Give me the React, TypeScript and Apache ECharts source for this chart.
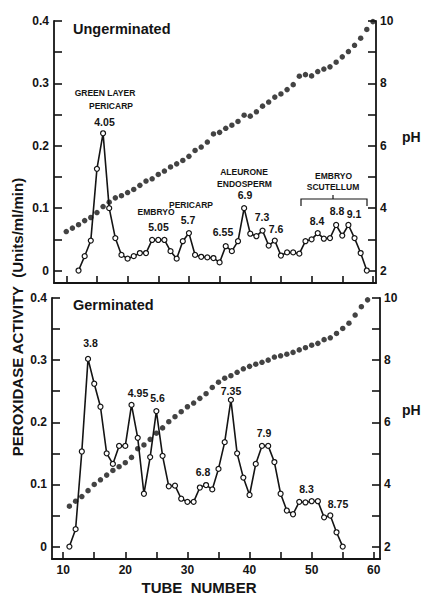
import React, { useEffect, useRef } from "react";
import * as echarts from "echarts";

// ---------- DATA ----------
// Ungerminated panel
const topActivityStartTube = 12;
const topActivity = [
  0.0, 0.023, 0.048, 0.163, 0.22, 0.1, 0.052, 0.025, 0.019, 0.023, 0.028, 0.028,
  0.049, 0.049, 0.049, 0.031, 0.019, 0.047, 0.06, 0.025, 0.022, 0.021, 0.02, 0.013,
  0.039, 0.031, 0.047, 0.1, 0.059, 0.055, 0.064, 0.04, 0.048, 0.024, 0.029, 0.029,
  0.027, 0.047, 0.05, 0.06, 0.051, 0.052, 0.073, 0.056, 0.073, 0.052, 0.028, 0.0,
];
const topPHStartTube = 10;
const topPH = [
  3.25, 3.36, 3.47, 3.6, 3.7, 3.86, 4.05, 4.19, 4.33, 4.4, 4.5, 4.6, 4.73, 4.87,
  4.94, 5.08, 5.19, 5.32, 5.42, 5.53, 5.66, 5.85, 5.96, 6.12, 6.38, 6.43, 6.56,
  6.66, 6.78, 6.98, 6.95, 7.09, 7.27, 7.4, 7.56, 7.66, 7.8, 7.96, 8.23, 8.28, 8.24,
  8.38, 8.46, 8.53, 8.68, 8.85, 9.02, 9.22, 9.45, 9.73, 9.98,
];

// Germinated panel
const botActivityStartTube = 11;
const botActivity = [
  0.0, 0.028, 0.153, 0.302, 0.262, 0.225, 0.15, 0.133, 0.162, 0.162, 0.228, 0.175,
  0.085, 0.144, 0.218, 0.146, 0.097, 0.098, 0.077, 0.072, 0.072, 0.095, 0.099,
  0.092, 0.125, 0.168, 0.236, 0.15, 0.111, 0.083, 0.133, 0.162, 0.162, 0.136,
  0.085, 0.058, 0.052, 0.072, 0.071, 0.073, 0.073, 0.047, 0.05, 0.023, 0.0,
];
const botPHStartTube = 11;
const botPH = [
  3.3, 3.46, 3.61, 3.8, 4.0, 4.15, 4.3, 4.45, 4.57, 4.7, 4.87, 5.15, 5.27, 5.45,
  5.65, 5.82, 6.02, 6.18, 6.34, 6.5, 6.62, 6.77, 6.92, 7.12, 7.29, 7.42, 7.5, 7.61,
  7.72, 7.8, 7.87, 7.93, 8.0, 8.1, 8.14, 8.19, 8.25, 8.33, 8.4, 8.48, 8.54, 8.66,
  8.72, 8.86, 9.02, 9.19, 9.45, 9.72, 9.94,
];

// Tick values / labels
const xTickValues = [10, 15, 20, 25, 30, 35, 40, 45, 50, 55, 60];
const xLabelValues = [10, 20, 30, 40, 50, 60];
const actTickValues = [0, 0.05, 0.1, 0.15, 0.2, 0.25, 0.3, 0.35, 0.4];
const actLabelValues = [0, 0.1, 0.2, 0.3, 0.4];
const phTickValues = [2, 3, 4, 5, 6, 7, 8, 9, 10];
const phLabelValues = [2, 4, 6, 8, 10];

// Annotations (text, pixel centre, font size)
const topNotes: [string, number, number, number][] = [
  ["GREEN LAYER", 105, 93, 8.5],
  ["PERICARP", 111, 106, 8.5],
  ["4.05", 104.5, 121.5, 10.5],
  ["EMBRYO", 156, 212, 8.5],
  ["5.05", 158.5, 227, 10.5],
  ["PERICARP", 191, 204.5, 8.5],
  ["5.7", 188, 220, 10.5],
  ["6.55", 223, 231.5, 10.5],
  ["ALEURONE", 244, 172, 8.5],
  ["ENDOSPERM", 244.5, 183.5, 8.5],
  ["6.9", 245, 194.5, 10.5],
  ["7.3", 262, 217, 10.5],
  ["7.6", 276, 229, 10.5],
  ["EMBRYO", 333.5, 175.5, 8.5],
  ["SCUTELLUM", 333, 187, 8.5],
  ["8.4", 317, 220.5, 10.5],
  ["8.8", 337, 211, 10.5],
  ["9.1", 354, 213.5, 10.5],
];
const botNotes: [string, number, number, number][] = [
  ["3.8", 90.5, 343, 10.5],
  ["4.95", 138, 392.5, 10.5],
  ["5.6", 157.5, 398, 10.5],
  ["7.35", 231, 391, 10.5],
  ["6.8", 203, 472, 10.5],
  ["7.9", 264, 432.5, 10.5],
  ["8.3", 306.5, 488.5, 10.5],
  ["8.75", 338, 504, 10.5],
];

const FONT = "'Liberation Sans', Arial, Helvetica, sans-serif";
const INK = "#141414";

function xAxisFor(gridIndex: number, min: number, max: number, showLabels: boolean) {
  return {
    type: "value",
    gridIndex,
    min,
    max,
    axisLine: { show: true, onZero: false, lineStyle: { color: INK, width: 1.8 } },
    axisTick: {
      show: true,
      inside: true,
      length: 7,
      customValues: xTickValues,
      lineStyle: { color: INK, width: 1.6 },
    },
    axisLabel: {
      show: showLabels,
      customValues: xLabelValues,
      color: INK,
      fontFamily: FONT,
      fontWeight: "bold",
      fontSize: 12,
      margin: 5,
    },
    splitLine: { show: false },
  };
}

function actAxisFor(gridIndex: number) {
  return {
    type: "value",
    gridIndex,
    position: "left",
    min: -0.02,
    max: 0.4,
    axisLine: { show: true, onZero: false, lineStyle: { color: INK, width: 1.8 } },
    axisTick: {
      show: true,
      inside: true,
      length: 8,
      customValues: actTickValues,
      lineStyle: { color: INK, width: 1.6 },
    },
    axisLabel: {
      customValues: actLabelValues,
      formatter: (v: number) => (v === 0 ? "0" : v.toFixed(1)),
      color: INK,
      fontFamily: FONT,
      fontWeight: "bold",
      fontSize: 12,
      margin: 5,
    },
    splitLine: { show: false },
  };
}

function phAxisFor(gridIndex: number) {
  return {
    type: "value",
    gridIndex,
    position: "right",
    min: 1.6,
    max: 10,
    axisLine: { show: true, onZero: false, lineStyle: { color: INK, width: 1.8 } },
    axisTick: {
      show: true,
      inside: true,
      length: 8,
      customValues: phTickValues,
      lineStyle: { color: INK, width: 1.6 },
    },
    axisLabel: {
      customValues: phLabelValues,
      color: INK,
      fontFamily: FONT,
      fontWeight: "bold",
      fontSize: 12,
      margin: 4,
    },
    splitLine: { show: false },
  };
}

function activitySeries(xi: number, yi: number, start: number, vals: number[]) {
  return {
    type: "line",
    xAxisIndex: xi,
    yAxisIndex: yi,
    data: vals.map((v, i) => [start + i, v]),
    symbol: "circle",
    symbolSize: 5,
    showAllSymbol: true,
    lineStyle: { color: INK, width: 1.6 },
    itemStyle: { color: "#ffffff", borderColor: INK, borderWidth: 1.2 },
    z: 3,
  };
}

function phSeries(xi: number, yi: number, start: number, vals: number[]) {
  return {
    type: "scatter",
    xAxisIndex: xi,
    yAxisIndex: yi,
    data: vals.map((v, i) => [start + i, v]),
    symbol: "circle",
    symbolSize: 5.5,
    itemStyle: { color: INK },
    z: 4,
  };
}

function noteText(t: string, x: number, y: number, size: number) {
  return {
    type: "text",
    x,
    y,
    z: 10,
    style: {
      text: t,
      fill: INK,
      font: `bold ${size}px ${FONT}`,
      textAlign: "center",
      textVerticalAlign: "middle",
    },
  };
}

export default function App() {
  const ref = useRef<HTMLDivElement>(null);
  useEffect(() => {
    if (!ref.current) return;
    const chart = echarts.init(ref.current, null, { renderer: "svg" });
    const graphics: any[] = [
      {
        type: "text",
        x: 73,
        y: 29,
        style: {
          text: "Ungerminated",
          fill: INK,
          font: `bold 14.5px ${FONT}`,
          textAlign: "left",
          textVerticalAlign: "middle",
        },
      },
      {
        type: "text",
        x: 73,
        y: 305,
        style: {
          text: "Germinated",
          fill: INK,
          font: `bold 14.5px ${FONT}`,
          textAlign: "left",
          textVerticalAlign: "middle",
        },
      },
      {
        type: "text",
        x: 402,
        y: 137,
        style: { text: "pH", fill: INK, font: `bold 14px ${FONT}`, textAlign: "left", textVerticalAlign: "middle" },
      },
      {
        type: "text",
        x: 402,
        y: 410,
        style: { text: "pH", fill: INK, font: `bold 14px ${FONT}`, textAlign: "left", textVerticalAlign: "middle" },
      },
      {
        type: "text",
        x: 199,
        y: 587,
        style: {
          text: "TUBE  NUMBER",
          fill: INK,
          font: `bold 15px ${FONT}`,
          textAlign: "center",
          textVerticalAlign: "middle",
        },
      },
      {
        type: "text",
        x: 17,
        y: 317,
        rotation: Math.PI / 2,
        style: {
          text: "PEROXIDASE ACTIVITY  (Units/ml/min)",
          fill: INK,
          font: `bold 15px ${FONT}`,
          textAlign: "center",
          textVerticalAlign: "middle",
        },
      },
      {
        type: "polyline",
        shape: { points: [[301, 206], [301, 199], [367, 199], [367, 206]] },
        style: { stroke: INK, lineWidth: 1.2, fill: "none" },
      },
      {
        type: "line",
        shape: { x1: 333, y1: 195, x2: 333, y2: 199 },
        style: { stroke: INK, lineWidth: 1.2 },
      },
      ...topNotes.map(([t, x, y, s]) => noteText(t, x, y, s)),
      ...botNotes.map(([t, x, y, s]) => noteText(t, x, y, s)),
    ];

    chart.setOption({
      animation: false,
      backgroundColor: "#ffffff",
      grid: [
        { left: 54, top: 21, width: 322, height: 262, containLabel: false },
        { left: 52, top: 298, width: 328, height: 261, containLabel: false },
      ],
      xAxis: [xAxisFor(0, 8, 60.5, false), xAxisFor(1, 8.2, 61, true)],
      yAxis: [actAxisFor(0), phAxisFor(0), actAxisFor(1), phAxisFor(1)],
      series: [
        activitySeries(0, 0, topActivityStartTube, topActivity),
        phSeries(0, 1, topPHStartTube, topPH),
        activitySeries(1, 2, botActivityStartTube, botActivity),
        phSeries(1, 3, botPHStartTube, botPH),
      ],
      graphic: graphics,
    });
    return () => chart.dispose();
  }, []);
  return (
    <div
      ref={ref}
      style={{ position: "fixed", left: 0, top: 0, width: 422, height: 601, background: "#fff" }}
    />
  );
}
